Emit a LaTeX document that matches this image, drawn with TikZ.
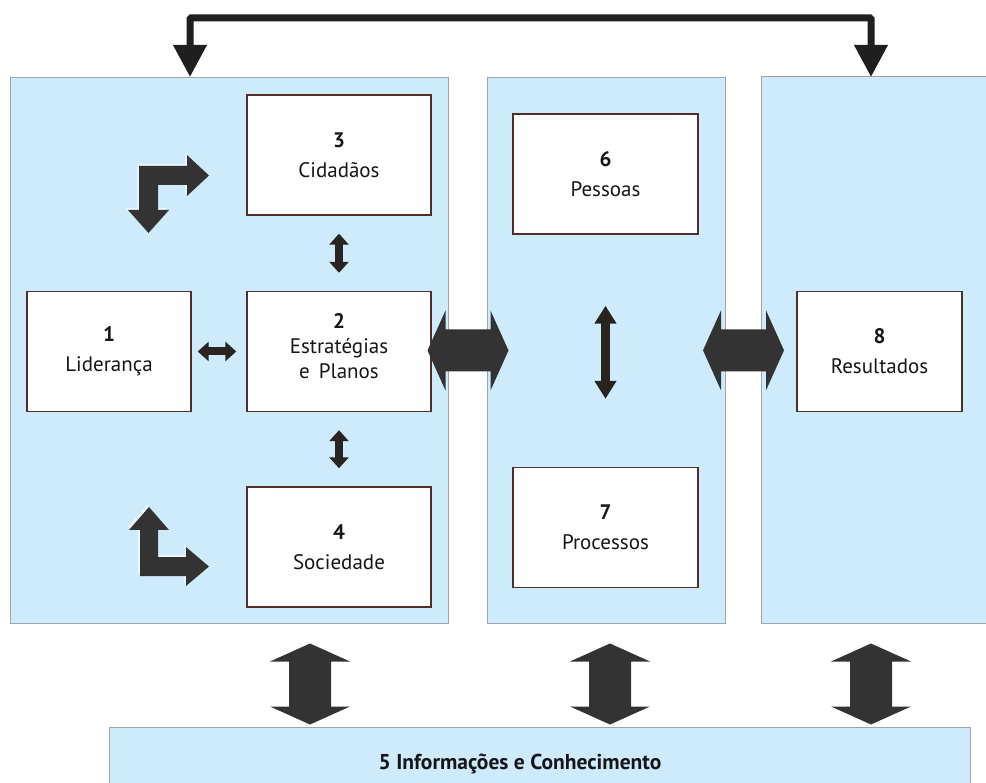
\documentclass[tikz,border=0pt]{standalone}
\usepackage{fontspec}
\setmainfont{PT Sans}
\usetikzlibrary{arrows.meta,calc}

\definecolor{panelblue}{RGB}{205,235,252}
\definecolor{panelline}{RGB}{158,164,170}
\definecolor{boxline}{RGB}{82,46,38}
\definecolor{arrowdark}{RGB}{51,51,51}
\definecolor{arrowink}{RGB}{42,36,32}
\definecolor{inktext}{RGB}{22,22,22}

\begin{document}
\begin{tikzpicture}[x=1pt,y=-1pt,
  panel/.style={fill=panelblue, draw=panelline, line width=1pt, inner sep=0pt, anchor=north west},
  panelfill/.style={fill=panelblue, draw=none, inner sep=0pt, anchor=north west},
  card/.style={draw=boxline, fill=white, line width=1.4pt, minimum width=#1,
    minimum height=120pt, inner sep=0pt, align=center, text=inktext,
    font=\fontsize{21}{30}\selectfont},
  linkarrow/.style={arrowink, line width=8pt,
    {Triangle[width=19pt,length=11pt]}-{Triangle[width=19pt,length=11pt]}},
  longlink/.style={arrowink, line width=9pt,
    {Triangle[width=21pt,length=18pt]}-{Triangle[width=21pt,length=18pt]}},
  topconn/.style={black!88, line width=7pt, rounded corners=1pt,
    {Triangle[width=32pt,length=32pt]}-{Triangle[width=32pt,length=32pt]}},
  halo/.style={fill=white, opacity=0.6},
  bigdarrow/.pic={
    \fill[arrowdark] (-40.5,0) -- (-22.5,-40) -- (-22.5,-21) -- (22.5,-21)
      -- (22.5,-40) -- (40.5,0) -- (22.5,40) -- (22.5,21) -- (-22.5,21)
      -- (-22.5,40) -- cycle;}
]
\useasboundingbox (0,0) rectangle (986,783);
\fill[white] (0,0) rectangle (986,783);

% three columns and the bottom strip
\node[panel, minimum width=438pt, minimum height=546pt] (pL) at (10,77) {};
\node[panel, minimum width=238pt, minimum height=546pt] (pM) at (487,77) {};
\node[panelfill, minimum width=225pt, minimum height=546pt] (pR) at (761,77) {};
\draw[panelline, line width=1pt] (pR.north east) -- (pR.north west) -- (pR.south west) -- (pR.south east);
\node[panelfill, minimum width=861pt, minimum height=56pt] (bar) at (109,727) {};
\draw[panelline, line width=1pt] (bar.south west) -- (bar.north west) -- (bar.north east) -- (bar.south east);
\node[text=inktext, font=\bfseries\fontsize{21.5}{24}\selectfont] (kb) at (520,764) {5 Informações e Conhecimento};

% criteria boxes
\node[card=184pt] (b3) at (339,155)   {\textbf{3}\\Cidadãos};
\node[card=164pt] (b1) at (109,351.5) {\textbf{1}\\Liderança};
\node[card=184pt] (b2) at (339,351.5) {\textbf{2}\\[-5pt]Estratégias\\[-5pt]e\, Planos\\[-20pt]\mbox{}};
\node[card=184pt] (b4) at (339,547)   {\textbf{4}\\Sociedade};
\node[card=185pt] (b6) at (605.5,174) {\textbf{6}\\Pessoas};
\node[card=185pt] (b7) at (605.5,527.5) {\textbf{7}\\Processos};
\node[card=165pt] (b8) at (879.5,351.5) {\textbf{8}\\Resultados};

% links between boxes
\draw[linkarrow, shorten <=18pt, shorten >=18pt] (b3) -- (b2);
\draw[linkarrow, shorten <=18pt, shorten >=18pt] (b2) -- (b4);
\draw[linkarrow, shorten <=6pt, shorten >=10pt] (b1) -- (b2);
\draw[longlink, shorten <=71pt, shorten >=68pt] (b6) -- (b7);

% feedback loop over the top
\draw[topconn] ([xshift=180pt]pL.north west) -- ++(0,-59) -| ([xshift=110pt]pR.north west);

% wide arrows between the columns and down to the strip
\pic at ($(pL.east)!0.5!(pM.west)$) {bigdarrow};
\pic at ($(pM.east)!0.5!(pR.west)$) {bigdarrow};
\pic[rotate=90] at (310,684) {bigdarrow};
\pic[rotate=90] at (610,684) {bigdarrow};
\pic[rotate=90] at (871,684) {bigdarrow};

% turning arrows beside boxes 3 and 4
\def\upperL{(139,166) -- (187,166) -- (187,155) -- (209,175.5) -- (187,196)
  -- (187,185) -- (158,185) -- (158,210) -- (169,210) -- (148.5,233)
  -- (128,210) -- (139,210) -- cycle}
\def\lowerL{(149,507) -- (169,530) -- (158,530) -- (158,557) -- (186,557)
  -- (186,547) -- (209,566.5) -- (186,586) -- (186,576) -- (140,576)
  -- (140,530) -- (129,530) -- cycle}
\fill[halo, shift={(-2,-2)}] \upperL;
\fill[arrowdark] \upperL;
\fill[halo, shift={(-2,-2)}] \lowerL;
\fill[arrowdark] \lowerL;
\end{tikzpicture}
\end{document}
